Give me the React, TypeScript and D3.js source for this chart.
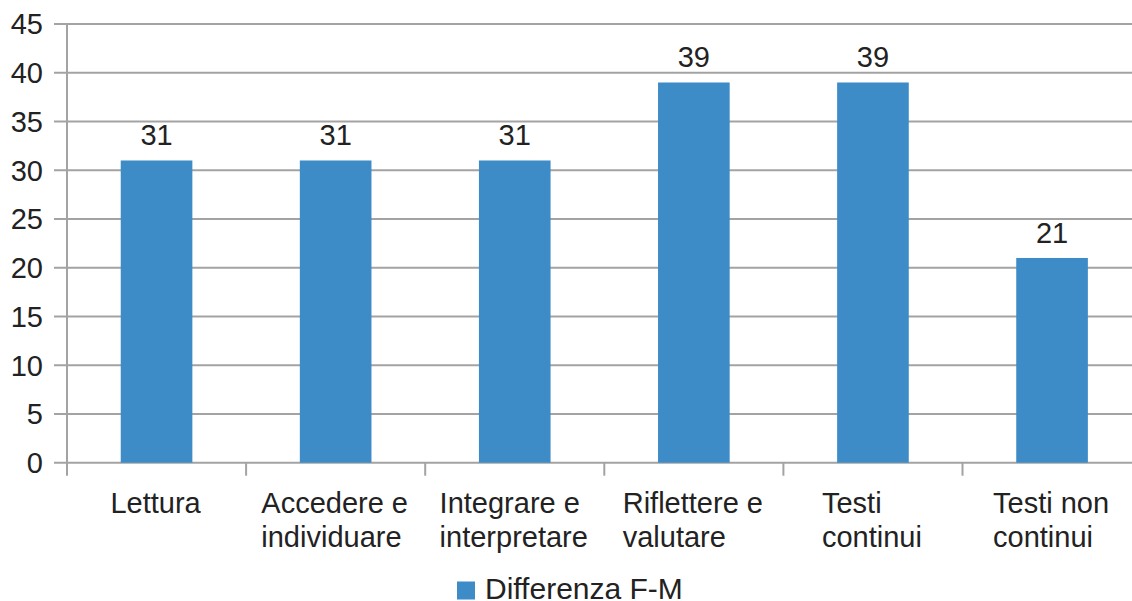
import React, { useEffect, useRef } from "react";
import * as d3 from "d3";

const categories: string[][] = [
  ["Lettura"],
  ["Accedere e", "individuare"],
  ["Integrare e", "interpretare"],
  ["Riflettere e", "valutare"],
  ["Testi", "continui"],
  ["Testi non", "continui"],
];
const values: number[] = [31, 31, 31, 39, 39, 21];
const yTicks: number[] = [0, 5, 10, 15, 20, 25, 30, 35, 40, 45];
const seriesName = "Differenza F-M";

const W = 1132;
const H = 601;
const FONT = "'Liberation Sans', Arial, sans-serif";
const TEXT = "#222222";
const GRID = "#a3a3a3";
const BAR = "#3d8cc7";

export default function App() {
  const ref = useRef<SVGSVGElement | null>(null);

  useEffect(() => {
    const svg = d3.select(ref.current);
    svg.selectAll("*").remove();

    const left = 67;
    const right = 1141.6;
    const top = 24;
    const bottom = 462.7;

    const x = d3
      .scaleBand<number>()
      .domain(categories.map((_, i) => i))
      .range([left, right])
      .paddingInner(0.6)
      .paddingOuter(0.3);
    const xStep = (right - left) / categories.length;
    const y = d3.scaleLinear().domain([0, 45]).range([bottom, top]);

    // gridlines
    svg
      .append("g")
      .selectAll("line")
      .data(yTicks)
      .join("line")
      .attr("x1", left - 13)
      .attr("x2", W)
      .attr("y1", (d) => y(d))
      .attr("y2", (d) => y(d))
      .attr("stroke", GRID)
      .attr("stroke-width", 2);

    // y axis line
    svg
      .append("line")
      .attr("x1", left)
      .attr("x2", left)
      .attr("y1", top)
      .attr("y2", bottom + 13)
      .attr("stroke", GRID)
      .attr("stroke-width", 2);

    // category ticks
    svg
      .append("g")
      .selectAll("line")
      .data(d3.range(1, categories.length + 1))
      .join("line")
      .attr("x1", (i) => left + i * xStep)
      .attr("x2", (i) => left + i * xStep)
      .attr("y1", bottom)
      .attr("y2", bottom + 13)
      .attr("stroke", GRID)
      .attr("stroke-width", 2);

    // y labels
    svg
      .append("g")
      .selectAll("text")
      .data(yTicks)
      .join("text")
      .attr("x", 43)
      .attr("y", (d) => y(d))
      .attr("dy", "0.36em")
      .attr("text-anchor", "end")
      .attr("font-family", FONT)
      .attr("font-size", 29)
      .attr("fill", TEXT)
      .text((d) => String(d));

    // bars
    svg
      .append("g")
      .selectAll("rect")
      .data(values)
      .join("rect")
      .attr("x", (_, i) => x(i)!)
      .attr("width", x.bandwidth())
      .attr("y", (d) => y(d))
      .attr("height", (d) => bottom - y(d))
      .attr("fill", BAR);

    // value labels
    svg
      .append("g")
      .selectAll("text")
      .data(values)
      .join("text")
      .attr("x", (_, i) => x(i)! + x.bandwidth() / 2)
      .attr("y", (d) => y(d) - 15)
      .attr("text-anchor", "middle")
      .attr("font-family", FONT)
      .attr("font-size", 29)
      .attr("fill", TEXT)
      .text((d) => String(d));

    // category labels: block centred, lines left-aligned
    categories.forEach((lines, i) => {
      const cx = left + (i + 0.5) * xStep;
      const t = svg
        .append("text")
        .attr("font-family", FONT)
        .attr("font-size", 29)
        .attr("fill", TEXT);
      const spans = lines.map((ln, j) =>
        t.append("tspan").attr("y", 512.7 + j * 34).text(ln)
      );
      let maxW = 0;
      spans.forEach((s) => {
        const w = (s.node() as SVGTextContentElement).getComputedTextLength();
        if (w > maxW) maxW = w;
      });
      spans.forEach((s) => s.attr("x", cx - maxW / 2 - 1));
    });

    // legend
    const lg = svg.append("g");
    lg.append("rect")
      .attr("x", 457)
      .attr("y", 581.5)
      .attr("width", 18)
      .attr("height", 18)
      .attr("fill", BAR);
    lg.append("text")
      .attr("x", 485)
      .attr("y", 599)
      .attr("font-family", FONT)
      .attr("font-size", 30)
      .attr("fill", TEXT)
      .text(seriesName);
  }, []);

  return (
    <svg
      ref={ref}
      width={W}
      height={H}
      style={{ position: "absolute", left: 0, top: 0, background: "#fff" }}
    />
  );
}
